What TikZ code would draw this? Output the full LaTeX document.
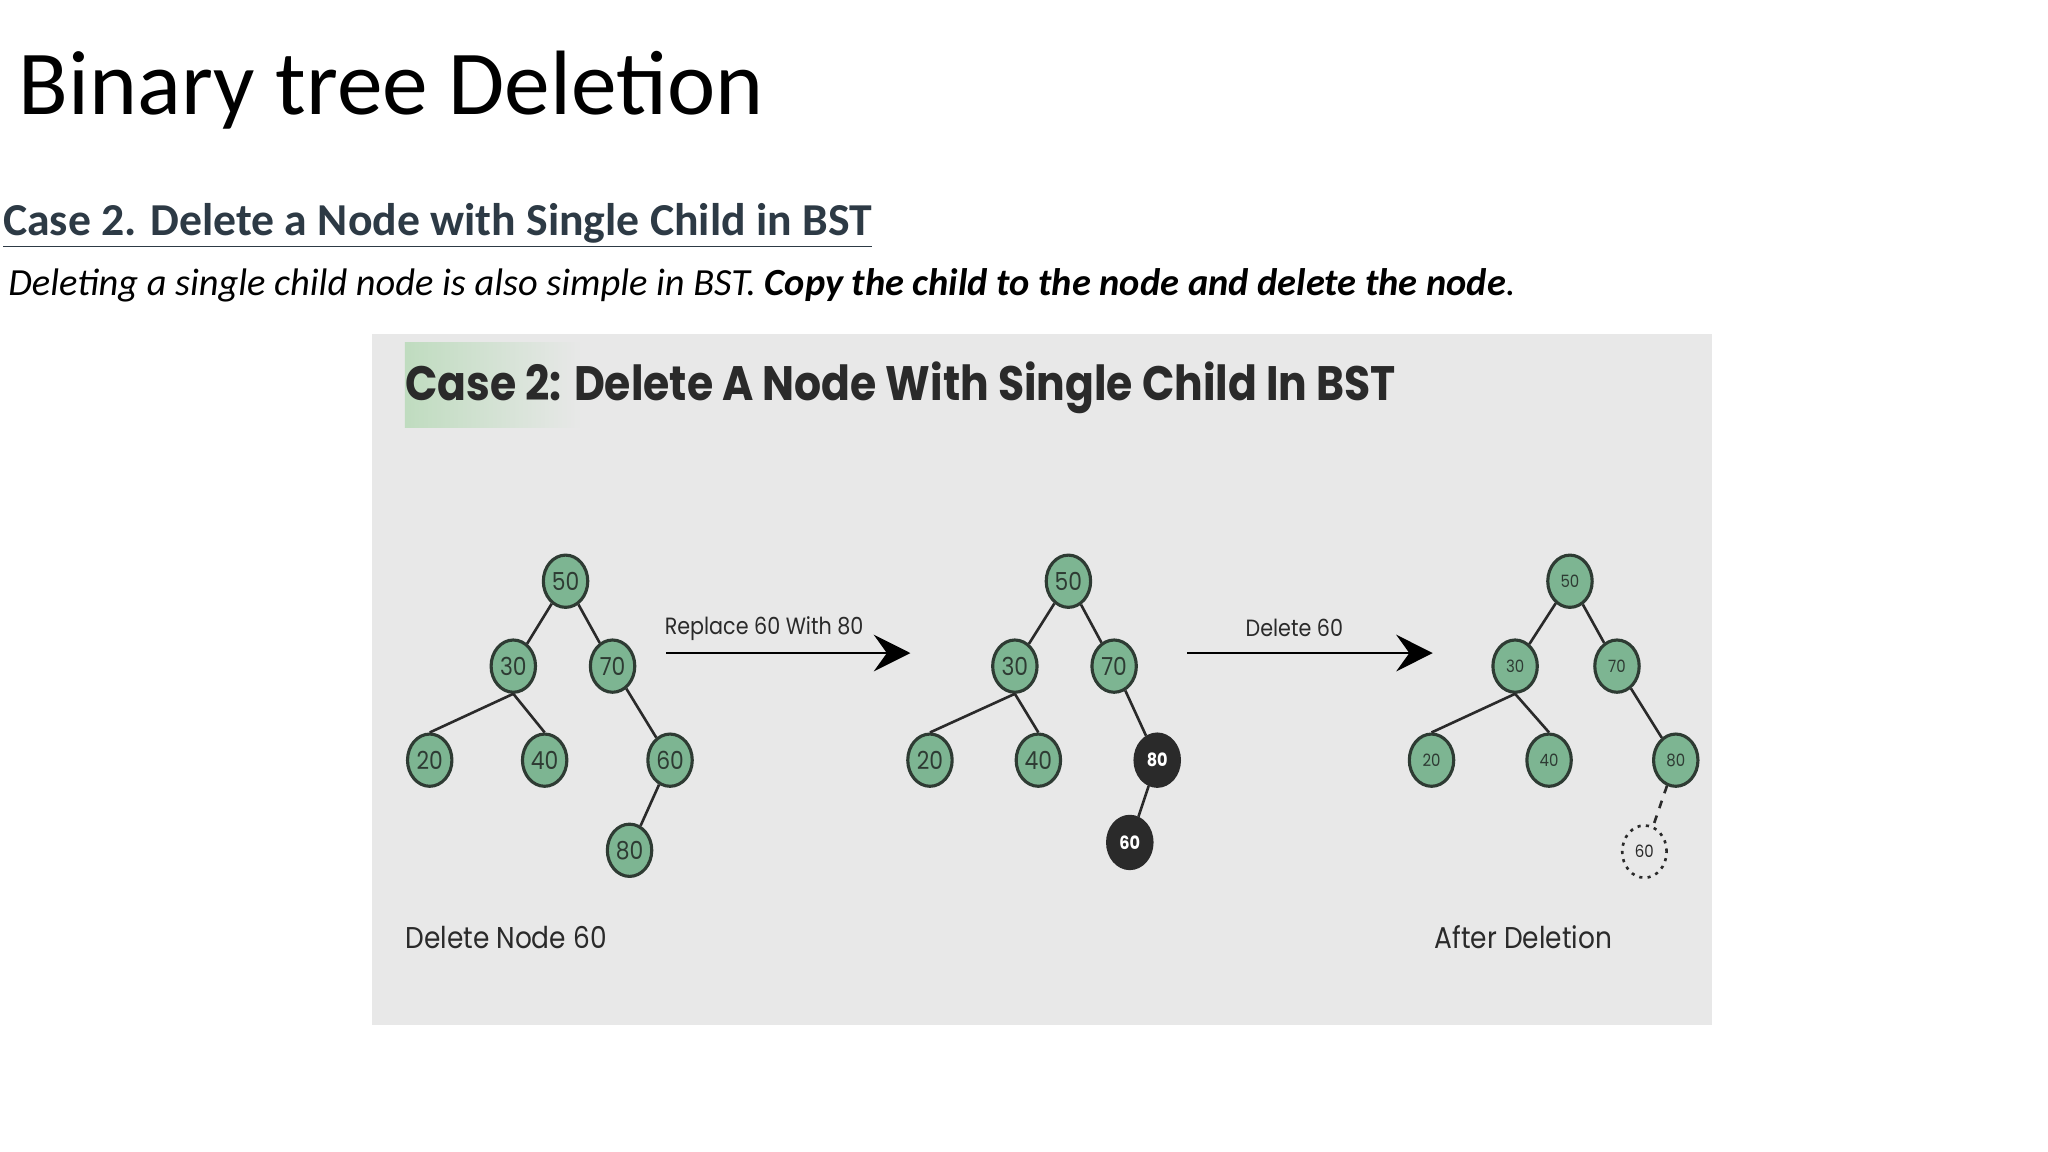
\documentclass[tikz,border=0pt]{standalone}
\usepackage{fontspec}
\setmainfont{Carlito}
\newfontfamily\pop{Poppins}
\newfontfamily\popc[FakeStretch=0.88]{Poppins}
\usetikzlibrary{shapes.geometric,arrows.meta}
\definecolor{nodegreen}{HTML}{7DB592}
\definecolor{nodeline}{HTML}{2E3B33}
\definecolor{boxgray}{HTML}{E8E8E8}
\definecolor{headc}{HTML}{2D3A45}
\definecolor{darkn}{HTML}{2A2A2A}
\begin{document}
\begin{tikzpicture}[x=0.5pt,y=-0.5pt,
  tn/.style={ellipse,draw=nodeline,line width=1.2pt,fill=nodegreen,minimum width=17pt,minimum height=20pt,inner sep=0pt,font=\popc\fontsize{9.5}{9.5}\selectfont,text=nodeline},
  tns/.style={tn,font=\popc\fontsize{6.5}{6.5}\selectfont},
  dn/.style={tn,fill=darkn,draw=darkn,text=white,font=\popc\bfseries\fontsize{7}{7}\selectfont},
  gn/.style={tns,fill=none,draw=darkn,dotted,line width=1pt,text=darkn},
  ed/.style={line width=1pt,draw=darkn},
  bigarrow/.style={line width=0.8pt,-{Stealth[length=14pt,width=14pt,inset=5pt]}},
  lab/.style={font=\popc\fontsize{9}{9}\selectfont,text=darkn}]
\useasboundingbox (0,0) rectangle (1568,882);
\fill[white] (0,0) rectangle (1568,882);
\node[anchor=base west,inner sep=0pt,font=\fontsize{35}{35}\selectfont] (title) at (14,88) {Binary tree Deletion};
\node[anchor=base west,inner sep=0pt,font=\bfseries\fontsize{17.5}{17.5}\selectfont,text=headc] (head) at (2,180) {\underline{Case 2. Delete a Node with Single Child in BST}};
\node[anchor=base west,inner sep=0pt,font=\itshape\fontsize{14.7}{14.7}\selectfont] (desc) at (6,226) {Deleting a single child node is also simple in BST. \textbf{Copy the child to the node and delete the node}.};
\fill[boxgray] (285,256) rectangle (1311,785);
\shade[left color=green!45!black!25!white,right color=boxgray] (310,262) rectangle (445,327);
\node[anchor=base west,inner sep=0pt,font=\popc\bfseries\fontsize{18.5}{18.5}\selectfont,text=darkn] (inner) at (310,307) {Case 2: Delete A Node With Single Child In BST};
% tree 1
\node[tn] (a50) at (433,445) {50};
\node[tn] (a30) at (393,510) {30};
\node[tn] (a70) at (469,510) {70};
\node[tn] (a20) at (329,582) {20};
\node[tn] (a40) at (417,582) {40};
\node[tn] (a60) at (513,582) {60};
\node[tn] (a80) at (482,651) {80};
\draw[ed] (a50)--(a30); \draw[ed] (a50)--(a70);
\draw[ed] (a30.south)--(a20.north); \draw[ed] (a30.south)--(a40.north);
\draw[ed] (a70)--(a60); \draw[ed] (a60)--(a80);
% tree 2
\node[tn] (b50) at (818,445) {50};
\node[tn] (b30) at (777,510) {30};
\node[tn] (b70) at (853,510) {70};
\node[tn] (b20) at (712,582) {20};
\node[tn] (b40) at (795,582) {40};
\node[dn] (b80) at (886,582) {80};
\node[dn] (b60) at (865,645) {60};
\draw[ed] (b50)--(b30); \draw[ed] (b50)--(b70);
\draw[ed] (b30.south)--(b20.north); \draw[ed] (b30.south)--(b40.north);
\draw[ed] (b70)--(b80); \draw[ed] (b80)--(b60);
% tree 3
\node[tns] (c50) at (1202,445) {50};
\node[tns] (c30) at (1160,510) {30};
\node[tns] (c70) at (1238,510) {70};
\node[tns] (c20) at (1096,582) {20};
\node[tns] (c40) at (1186,582) {40};
\node[tns] (c80) at (1283,582) {80};
\node[gn] (c60) at (1259,652) {60};
\draw[ed] (c50)--(c30); \draw[ed] (c50)--(c70);
\draw[ed] (c30.south)--(c20.north); \draw[ed] (c30.south)--(c40.north);
\draw[ed] (c70)--(c80); \draw[ed,dashed] (c80)--(c60);
% arrows
\coordinate (r1s) at (510,500); \coordinate (r1e) at (697,500);
\coordinate (r2s) at (909,500); \coordinate (r2e) at (1097,500);
\draw[bigarrow] (r1s)--(r1e);
\draw[bigarrow] (r2s)--(r2e);
\node[lab] (l1) at (585,481) {Replace 60 With 80};
\node[lab] (l2) at (991,481) {Delete 60};
\node[anchor=base west,inner sep=0pt,font=\popc\fontsize{11.5}{11.5}\selectfont,text=darkn] (dl) at (310,726) {Delete Node 60};
\node[anchor=base west,inner sep=0pt,font=\popc\fontsize{11.5}{11.5}\selectfont,text=darkn] (ad) at (1098,726) {After Deletion};
\end{tikzpicture}
\end{document}
